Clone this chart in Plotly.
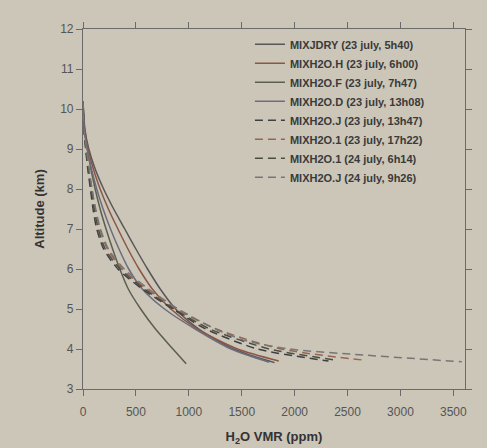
import plotly.graph_objects as go

names = [
    "MIXJDRY (23 july, 5h40)",
    "MIXH2O.H (23 july, 6h00)",
    "MIXH2O.F (23 july, 7h47)",
    "MIXH2O.D (23 july, 13h08)",
    "MIXH2O.J (23 july, 13h47)",
    "MIXH2O.1 (23 july, 17h22)",
    "MIXH2O.1 (24 july, 6h14)",
    "MIXH2O.J (24 july, 9h26)",
]
colors = ["#575757", "#8c5646", "#5c5e4e", "#6c6c7c", "#3e3e44", "#9a6452", "#4c4e3e", "#767676"]
dashes = ["solid", "solid", "solid", "solid", "8px,5px", "8px,5px", "8px,5px", "8px,5px"]

alt_solid = [10.2, 9.5, 9.0, 8.5, 8.0, 7.5, 7.0, 6.5, 6.0, 5.5, 5.0, 4.5, 4.0]
alt_dash = [10.2, 9.5, 9.0, 8.5, 8.0, 7.5, 7.0, 6.5, 6.0, 5.5, 5.0, 4.5, 4.0]

vmr_jdry = [0, 18, 55, 115, 195, 290, 395, 500, 610, 730, 875, 1095, 1420, 1810]
alt_jdry = alt_solid + [3.66]
vmr_h = [0, 15, 48, 98, 162, 240, 330, 425, 530, 655, 830, 1080, 1460, 1850]
alt_h = alt_solid + [3.7]
vmr_f = [0, 12, 40, 75, 115, 162, 218, 280, 348, 428, 545, 685, 850, 975]
alt_f = alt_solid + [3.63]
vmr_d = [0, 12, 40, 80, 130, 190, 260, 340, 432, 560, 770, 1060, 1400, 1760]
alt_d = alt_solid + [3.67]
vmr_j23 = [0, 8, 25, 45, 70, 95, 130, 195, 330, 560, 850, 1160, 1650, 2320]
alt_j23 = alt_dash + [3.7]
vmr_123 = [0, 10, 30, 55, 85, 115, 160, 230, 370, 600, 880, 1260, 1870, 2660]
alt_123 = alt_dash + [3.72]
vmr_124 = [0, 10, 28, 50, 78, 105, 145, 210, 350, 580, 860, 1200, 1760, 2400]
alt_124 = alt_dash + [3.72]
vmr_j24 = [0, 10, 32, 58, 85, 120, 165, 240, 390, 620, 900, 1250, 1550, 1950, 2650, 3580]
alt_j24 = [10.2, 9.5, 9.0, 8.5, 8.0, 7.5, 7.0, 6.5, 6.0, 5.5, 5.0, 4.5, 4.2, 4.0, 3.85, 3.68]

xs = [vmr_jdry, vmr_h, vmr_f, vmr_d, vmr_j23, vmr_123, vmr_124, vmr_j24]
ys = [alt_jdry, alt_h, alt_f, alt_d, alt_j23, alt_123, alt_124, alt_j24]

x_ticks = [0, 500, 1000, 1500, 2000, 2500, 3000, 3500]
y_ticks = [3, 4, 5, 6, 7, 8, 9, 10, 11, 12]

bg = "#cbc6b8"
fig = go.Figure()
for n, c, d, x, y in zip(names, colors, dashes, xs, ys):
    fig.add_trace(go.Scatter(x=x, y=y, mode="lines", name=n,
                             line=dict(color=c, width=1.5, dash=d, shape="spline", smoothing=0.7)))

axis_common = dict(showline=True, linecolor="#6a6a6a", linewidth=1.2, mirror="allticks",
                   ticks="outside", ticklen=6, tickcolor="#6a6a6a", showgrid=False, zeroline=False,
                   automargin=False,
                   tickfont=dict(family="Liberation Sans, Arial", size=12, color="#555555"))
fig.update_layout(
    width=487, height=448,
    margin=dict(l=83, r=22, t=29, b=59),
    paper_bgcolor=bg, plot_bgcolor=bg,
    xaxis=dict(range=[0, 3610], tickvals=x_ticks, ticklabelstandoff=5, **axis_common,
               title=dict(text="H<sub>2</sub>O VMR (ppm)", standoff=14,
                          font=dict(family="Liberation Sans, Arial", size=13, color="#333333", weight="bold"))),
    yaxis=dict(range=[3, 12], tickvals=y_ticks, **axis_common,
               title=dict(text="Altitude (km)", standoff=12,
                          font=dict(family="Liberation Sans, Arial", size=13, color="#333333", weight="bold"))),
    legend=dict(x=0.437, y=0.998, xanchor="left", yanchor="top", bgcolor="rgba(0,0,0,0)",
                font=dict(family="Liberation Sans, Arial", size=11, color="#3a3a3a", weight="bold"),
                itemwidth=30, tracegroupgap=0),
    showlegend=True,
)
fig.write_html("out.html")
